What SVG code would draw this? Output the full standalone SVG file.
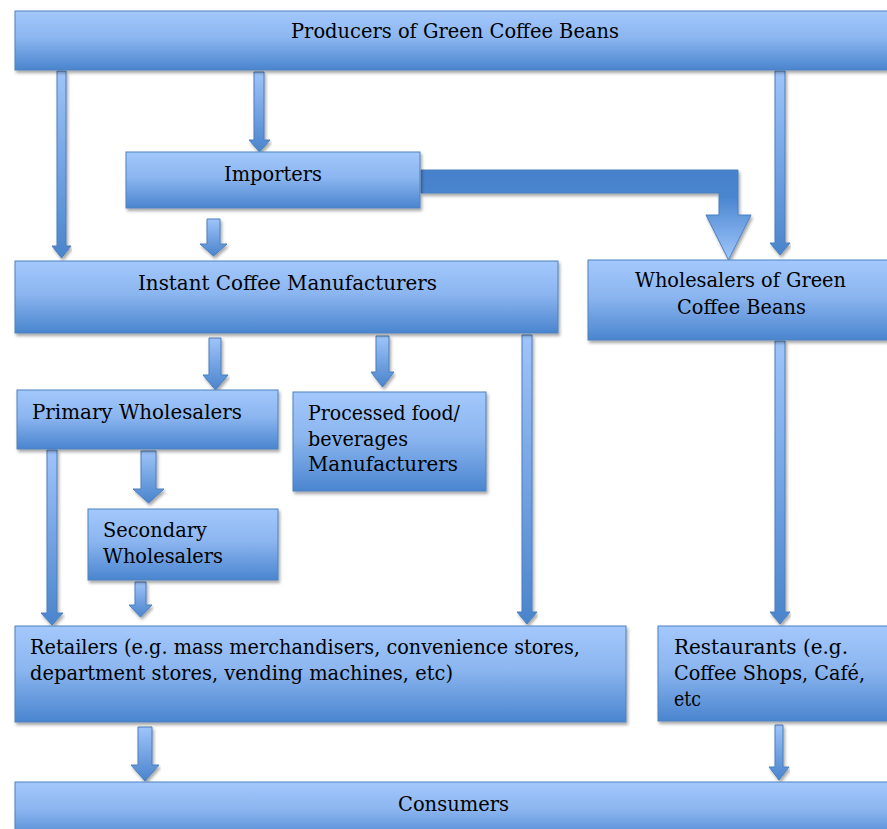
<svg xmlns="http://www.w3.org/2000/svg" width="887" height="829" viewBox="0 0 887 829">
<defs>
<linearGradient id="gBox" x1="0" y1="0" x2="0" y2="1">
<stop offset="0" stop-color="#a3c8fc"/>
<stop offset="0.45" stop-color="#8cb6f0"/>
<stop offset="1" stop-color="#4a85cf"/>
</linearGradient>
<linearGradient id="gArr" x1="0" y1="0" x2="0" y2="1">
<stop offset="0" stop-color="#9fc4fa"/>
<stop offset="1" stop-color="#4a84cc"/>
</linearGradient>
<linearGradient id="gBig" x1="0" y1="0" x2="0" y2="1">
<stop offset="0" stop-color="#4680cb"/>
<stop offset="0.3" stop-color="#4a86d0"/>
<stop offset="1" stop-color="#a0c6fb"/>
</linearGradient>
<filter id="sh" x="-5%" y="-10%" width="110%" height="130%">
<feDropShadow dx="1.5" dy="2.5" stdDeviation="1.5" flood-color="#000" flood-opacity="0.35"/>
</filter>
</defs>
<style>
.box{fill:url(#gBox);stroke:#4f81bd;stroke-width:1;filter:url(#sh)}
.arr{fill:url(#gArr);stroke:#4a7ebd;stroke-width:1;filter:url(#sh)}
.big{fill:url(#gBig);stroke:#4a7ebd;stroke-width:1;filter:url(#sh)}
text{font-family:"DejaVu Serif","Liberation Serif",serif;font-size:19.5px;fill:#000}
</style>

<g id="connectors">
<path class="arr" d="M57 71H66V246H71L61.5 258L52 246H57Z"/>
<path class="arr" d="M254 72H264V140H270L259.5 152L249 140H254Z"/>
<path class="arr" d="M775 71H785V243H790L780 255L770 243H775Z"/>
<path class="arr" d="M207 219H220V244H227L213.5 256L200 244H207Z"/>
<path class="big" d="M421 170H738V215H751L728.5 260L706 215H719V193H421Z"/>
<path class="arr" d="M209 338H221V375H228L215.5 390L203 375H209Z"/>
<path class="arr" d="M376 336H389V372H394L382.5 387L371 372H376Z"/>
<path class="arr" d="M141 451H156V489H164L148.5 503L133 489H141Z"/>
<path class="arr" d="M47 450H57V613H63L52 625L41 613H47Z"/>
<path class="arr" d="M135 582H146V605H152L140.5 617L129 605H135Z"/>
<path class="arr" d="M522 335H532V612H537L527 624L517 612H522Z"/>
<path class="arr" d="M775 341H785V612H790L780 624L770 612H775Z"/>
<path class="arr" d="M138 727H152V765H159L145 781L131 765H138Z"/>
<path class="arr" d="M775 725H783V767H789L779 780L769 767H775Z"/>
</g>

<g id="producers">
<rect class="box" x="15" y="11" width="880" height="59"/>
<text x="291" y="38" textLength="328" lengthAdjust="spacingAndGlyphs">Producers of Green Coffee Beans</text>
</g>
<g id="importers">
<rect class="box" x="126" y="152" width="294" height="56"/>
<text x="224" y="181" textLength="98" lengthAdjust="spacingAndGlyphs">Importers</text>
</g>
<g id="instant">
<rect class="box" x="15" y="261" width="543" height="72"/>
<text x="138" y="290" textLength="299" lengthAdjust="spacingAndGlyphs">Instant Coffee Manufacturers</text>
</g>
<g id="wholesalers-green">
<rect class="box" x="588" y="260" width="307" height="80"/>
<text x="635" y="287" textLength="211" lengthAdjust="spacingAndGlyphs">Wholesalers of Green</text>
<text x="677" y="314" textLength="129" lengthAdjust="spacingAndGlyphs">Coffee Beans</text>
</g>
<g id="primary">
<rect class="box" x="17" y="390" width="261" height="59"/>
<text x="32" y="419" textLength="210" lengthAdjust="spacingAndGlyphs">Primary Wholesalers</text>
</g>
<g id="processed">
<rect class="box" x="293" y="392" width="193" height="99"/>
<text x="308" y="420" textLength="152" lengthAdjust="spacingAndGlyphs">Processed food/</text>
<text x="308" y="446" textLength="100" lengthAdjust="spacingAndGlyphs">beverages</text>
<text x="308" y="471" textLength="150" lengthAdjust="spacingAndGlyphs">Manufacturers</text>
</g>
<g id="secondary">
<rect class="box" x="88" y="509" width="190" height="71"/>
<text x="103" y="537" textLength="104" lengthAdjust="spacingAndGlyphs">Secondary</text>
<text x="103" y="563" textLength="120" lengthAdjust="spacingAndGlyphs">Wholesalers</text>
</g>
<g id="retailers">
<rect class="box" x="15" y="626" width="611" height="96"/>
<text x="30" y="654" textLength="550" lengthAdjust="spacingAndGlyphs">Retailers (e.g. mass merchandisers, convenience stores,</text>
<text x="30" y="680" textLength="423" lengthAdjust="spacingAndGlyphs">department stores, vending machines, etc)</text>
</g>
<g id="restaurants">
<rect class="box" x="658" y="626" width="237" height="95"/>
<text x="674" y="654" textLength="174" lengthAdjust="spacingAndGlyphs">Restaurants (e.g.</text>
<text x="674" y="680" textLength="191" lengthAdjust="spacingAndGlyphs">Coffee Shops, Café,</text>
<text x="674" y="706" textLength="27" lengthAdjust="spacingAndGlyphs">etc</text>
</g>
<g id="consumers">
<rect class="box" x="15" y="782" width="880" height="60"/>
<text x="398" y="811" textLength="111" lengthAdjust="spacingAndGlyphs">Consumers</text>
</g>
</svg>
